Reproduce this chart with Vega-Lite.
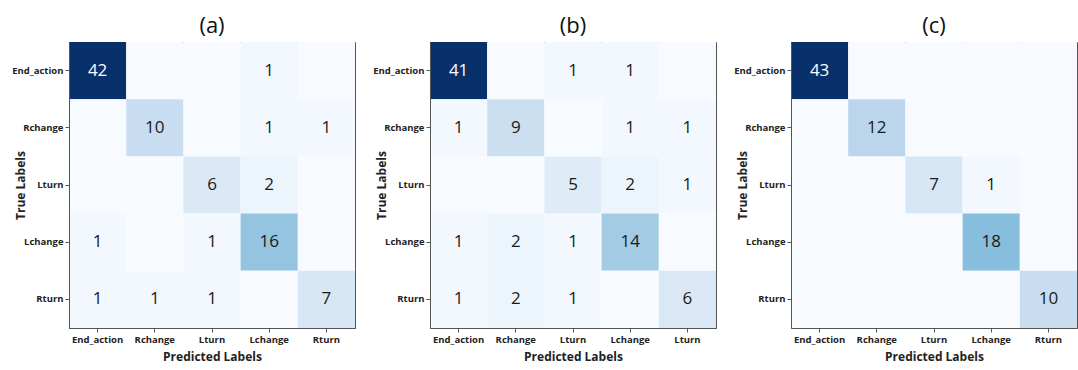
{
  "$schema": "https://vega.github.io/schema/vega-lite/v6.json",
  "background": "white",
  "padding": {"left": 11, "top": 14, "right": 0, "bottom": 3},
  "datasets": {
    "cm": [
      {"panel": "a", "true": "End_action", "pred": "End_action", "n": 42},
      {"panel": "a", "true": "End_action", "pred": "Rchange", "n": 0},
      {"panel": "a", "true": "End_action", "pred": "Lturn", "n": 0},
      {"panel": "a", "true": "End_action", "pred": "Lchange", "n": 1},
      {"panel": "a", "true": "End_action", "pred": "Rturn", "n": 0},
      {"panel": "a", "true": "Rchange", "pred": "End_action", "n": 0},
      {"panel": "a", "true": "Rchange", "pred": "Rchange", "n": 10},
      {"panel": "a", "true": "Rchange", "pred": "Lturn", "n": 0},
      {"panel": "a", "true": "Rchange", "pred": "Lchange", "n": 1},
      {"panel": "a", "true": "Rchange", "pred": "Rturn", "n": 1},
      {"panel": "a", "true": "Lturn", "pred": "End_action", "n": 0},
      {"panel": "a", "true": "Lturn", "pred": "Rchange", "n": 0},
      {"panel": "a", "true": "Lturn", "pred": "Lturn", "n": 6},
      {"panel": "a", "true": "Lturn", "pred": "Lchange", "n": 2},
      {"panel": "a", "true": "Lturn", "pred": "Rturn", "n": 0},
      {"panel": "a", "true": "Lchange", "pred": "End_action", "n": 1},
      {"panel": "a", "true": "Lchange", "pred": "Rchange", "n": 0},
      {"panel": "a", "true": "Lchange", "pred": "Lturn", "n": 1},
      {"panel": "a", "true": "Lchange", "pred": "Lchange", "n": 16},
      {"panel": "a", "true": "Lchange", "pred": "Rturn", "n": 0},
      {"panel": "a", "true": "Rturn", "pred": "End_action", "n": 1},
      {"panel": "a", "true": "Rturn", "pred": "Rchange", "n": 1},
      {"panel": "a", "true": "Rturn", "pred": "Lturn", "n": 1},
      {"panel": "a", "true": "Rturn", "pred": "Lchange", "n": 0},
      {"panel": "a", "true": "Rturn", "pred": "Rturn", "n": 7},

      {"panel": "b", "true": "End_action", "pred": "End_action", "n": 41},
      {"panel": "b", "true": "End_action", "pred": "Rchange", "n": 0},
      {"panel": "b", "true": "End_action", "pred": "Lturn", "n": 1},
      {"panel": "b", "true": "End_action", "pred": "Lchange", "n": 1},
      {"panel": "b", "true": "End_action", "pred": "Rturn", "n": 0},
      {"panel": "b", "true": "Rchange", "pred": "End_action", "n": 1},
      {"panel": "b", "true": "Rchange", "pred": "Rchange", "n": 9},
      {"panel": "b", "true": "Rchange", "pred": "Lturn", "n": 0},
      {"panel": "b", "true": "Rchange", "pred": "Lchange", "n": 1},
      {"panel": "b", "true": "Rchange", "pred": "Rturn", "n": 1},
      {"panel": "b", "true": "Lturn", "pred": "End_action", "n": 0},
      {"panel": "b", "true": "Lturn", "pred": "Rchange", "n": 0},
      {"panel": "b", "true": "Lturn", "pred": "Lturn", "n": 5},
      {"panel": "b", "true": "Lturn", "pred": "Lchange", "n": 2},
      {"panel": "b", "true": "Lturn", "pred": "Rturn", "n": 1},
      {"panel": "b", "true": "Lchange", "pred": "End_action", "n": 1},
      {"panel": "b", "true": "Lchange", "pred": "Rchange", "n": 2},
      {"panel": "b", "true": "Lchange", "pred": "Lturn", "n": 1},
      {"panel": "b", "true": "Lchange", "pred": "Lchange", "n": 14},
      {"panel": "b", "true": "Lchange", "pred": "Rturn", "n": 0},
      {"panel": "b", "true": "Rturn", "pred": "End_action", "n": 1},
      {"panel": "b", "true": "Rturn", "pred": "Rchange", "n": 2},
      {"panel": "b", "true": "Rturn", "pred": "Lturn", "n": 1},
      {"panel": "b", "true": "Rturn", "pred": "Lchange", "n": 0},
      {"panel": "b", "true": "Rturn", "pred": "Rturn", "n": 6},

      {"panel": "c", "true": "End_action", "pred": "End_action", "n": 43},
      {"panel": "c", "true": "End_action", "pred": "Rchange", "n": 0},
      {"panel": "c", "true": "End_action", "pred": "Lturn", "n": 0},
      {"panel": "c", "true": "End_action", "pred": "Lchange", "n": 0},
      {"panel": "c", "true": "End_action", "pred": "Rturn", "n": 0},
      {"panel": "c", "true": "Rchange", "pred": "End_action", "n": 0},
      {"panel": "c", "true": "Rchange", "pred": "Rchange", "n": 12},
      {"panel": "c", "true": "Rchange", "pred": "Lturn", "n": 0},
      {"panel": "c", "true": "Rchange", "pred": "Lchange", "n": 0},
      {"panel": "c", "true": "Rchange", "pred": "Rturn", "n": 0},
      {"panel": "c", "true": "Lturn", "pred": "End_action", "n": 0},
      {"panel": "c", "true": "Lturn", "pred": "Rchange", "n": 0},
      {"panel": "c", "true": "Lturn", "pred": "Lturn", "n": 7},
      {"panel": "c", "true": "Lturn", "pred": "Lchange", "n": 1},
      {"panel": "c", "true": "Lturn", "pred": "Rturn", "n": 0},
      {"panel": "c", "true": "Lchange", "pred": "End_action", "n": 0},
      {"panel": "c", "true": "Lchange", "pred": "Rchange", "n": 0},
      {"panel": "c", "true": "Lchange", "pred": "Lturn", "n": 0},
      {"panel": "c", "true": "Lchange", "pred": "Lchange", "n": 18},
      {"panel": "c", "true": "Lchange", "pred": "Rturn", "n": 0},
      {"panel": "c", "true": "Rturn", "pred": "End_action", "n": 0},
      {"panel": "c", "true": "Rturn", "pred": "Rchange", "n": 0},
      {"panel": "c", "true": "Rturn", "pred": "Lturn", "n": 0},
      {"panel": "c", "true": "Rturn", "pred": "Lchange", "n": 0},
      {"panel": "c", "true": "Rturn", "pred": "Rturn", "n": 10}
    ]
  },
  "config": {
    "view": {"stroke": "#555555", "strokeWidth": 1},
    "font": "Open Sans",
    "axis": {
      "labelFont": "Open Sans",
      "labelFontWeight": "bold",
      "labelFontSize": 9.5,
      "labelColor": "#222222",
      "titleFont": "Open Sans",
      "titleFontWeight": "bold",
      "titleFontSize": 12,
      "titleColor": "#222222",
      "tickColor": "#555555",
      "domainColor": "#555555",
      "tickSize": 4,
      "labelPadding": 2,
      "grid": false
    },
    "title": {"font": "Open Sans", "fontSize": 22, "fontWeight": "normal", "color": "#111111", "offset": 4},
    "concat": {"spacing": 16}
  },
  "resolve": {"scale": {"color": "independent"}},
  "hconcat": [
    {
      "title": "(a)",
      "width": 286,
      "height": 286,
      "data": {"name": "cm"},
      "transform": [{"filter": "datum.panel == 'a'"}],
      "encoding": {
        "x": {"field": "pred", "type": "nominal", "sort": ["End_action", "Rchange", "Lturn", "Lchange", "Rturn"], "axis": {"title": "Predicted Labels", "labelAngle": 0, "titlePadding": 8}},
        "y": {"field": "true", "type": "nominal", "sort": ["End_action", "Rchange", "Lturn", "Lchange", "Rturn"], "axis": {"title": "True Labels", "titleX": -42, "titleY": 143}}
      },
      "layer": [
        {"mark": {"type": "rect"}, "encoding": {"color": {"field": "n", "type": "quantitative", "scale": {"range": ["#f7fbff", "#deebf7", "#c6dbef", "#96c5e0", "#6baed6", "#4292c6", "#2171b5", "#08519c", "#08306b"], "interpolate": "rgb"}, "legend": null}}},
        {"transform": [{"filter": "datum.n > 0"}], "mark": {"type": "text", "font": "Open Sans", "fontSize": 17}, "encoding": {"text": {"field": "n", "type": "quantitative"}, "color": {"condition": {"test": "datum.n > 30", "value": "#ffffff"}, "value": "#1a1a1a"}}}
      ]
    },
    {
      "title": "(b)",
      "width": 286,
      "height": 286,
      "data": {"name": "cm"},
      "transform": [{"filter": "datum.panel == 'b'"}],
      "encoding": {
        "x": {"field": "pred", "type": "nominal", "sort": ["End_action", "Rchange", "Lturn", "Lchange", "Rturn"], "axis": {"title": "Predicted Labels", "labelAngle": 0, "titlePadding": 8, "labelExpr": "datum.value == 'Rturn' ? 'Lturn' : datum.value"}},
        "y": {"field": "true", "type": "nominal", "sort": ["End_action", "Rchange", "Lturn", "Lchange", "Rturn"], "axis": {"title": "True Labels", "titleX": -42, "titleY": 143}}
      },
      "layer": [
        {"mark": {"type": "rect"}, "encoding": {"color": {"field": "n", "type": "quantitative", "scale": {"range": ["#f7fbff", "#deebf7", "#c6dbef", "#96c5e0", "#6baed6", "#4292c6", "#2171b5", "#08519c", "#08306b"], "interpolate": "rgb"}, "legend": null}}},
        {"transform": [{"filter": "datum.n > 0"}], "mark": {"type": "text", "font": "Open Sans", "fontSize": 17}, "encoding": {"text": {"field": "n", "type": "quantitative"}, "color": {"condition": {"test": "datum.n > 30", "value": "#ffffff"}, "value": "#1a1a1a"}}}
      ]
    },
    {
      "title": "(c)",
      "width": 286,
      "height": 286,
      "data": {"name": "cm"},
      "transform": [{"filter": "datum.panel == 'c'"}],
      "encoding": {
        "x": {"field": "pred", "type": "nominal", "sort": ["End_action", "Rchange", "Lturn", "Lchange", "Rturn"], "axis": {"title": "Predicted Labels", "labelAngle": 0, "titlePadding": 8}},
        "y": {"field": "true", "type": "nominal", "sort": ["End_action", "Rchange", "Lturn", "Lchange", "Rturn"], "axis": {"title": "True Labels", "titleX": -42, "titleY": 143}}
      },
      "layer": [
        {"mark": {"type": "rect"}, "encoding": {"color": {"field": "n", "type": "quantitative", "scale": {"range": ["#f7fbff", "#deebf7", "#c6dbef", "#96c5e0", "#6baed6", "#4292c6", "#2171b5", "#08519c", "#08306b"], "interpolate": "rgb"}, "legend": null}}},
        {"transform": [{"filter": "datum.n > 0"}], "mark": {"type": "text", "font": "Open Sans", "fontSize": 17}, "encoding": {"text": {"field": "n", "type": "quantitative"}, "color": {"condition": {"test": "datum.n > 30", "value": "#ffffff"}, "value": "#1a1a1a"}}}
      ]
    }
  ]
}
